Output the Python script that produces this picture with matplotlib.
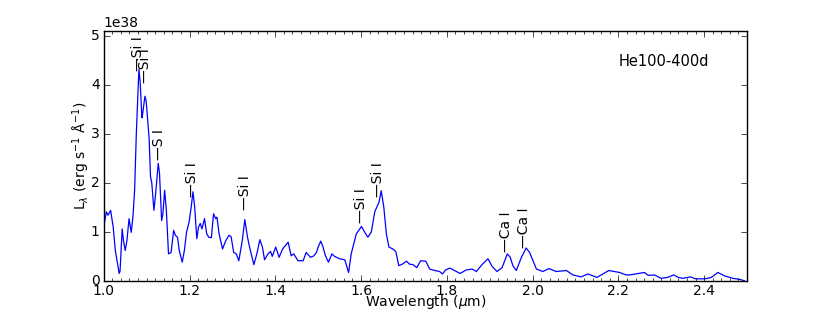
import matplotlib
matplotlib.use("Agg")
import matplotlib.pyplot as plt
from matplotlib.ticker import MultipleLocator

wavelength = [1.000, 1.006, 1.010, 1.016, 1.022, 1.027, 1.031, 1.036, 1.038, 1.043,
              1.046, 1.050, 1.054, 1.059, 1.064, 1.068, 1.072, 1.076, 1.082, 1.085,
              1.089, 1.091, 1.096, 1.099, 1.106, 1.109, 1.112, 1.117, 1.121, 1.127,
              1.130, 1.135, 1.138, 1.142, 1.146, 1.151, 1.157, 1.163, 1.167, 1.172,
              1.176, 1.183, 1.188, 1.193, 1.199, 1.204, 1.208, 1.212, 1.217, 1.221,
              1.225, 1.229, 1.235, 1.240, 1.245, 1.251, 1.256, 1.261, 1.264, 1.269,
              1.277, 1.284, 1.292, 1.297, 1.303, 1.309, 1.315, 1.323, 1.329, 1.335,
              1.340, 1.350, 1.357, 1.364, 1.370, 1.375, 1.383, 1.389, 1.393, 1.401,
              1.409, 1.417, 1.430, 1.437, 1.443, 1.453, 1.465, 1.472, 1.482, 1.490,
              1.496, 1.500, 1.506, 1.511, 1.517, 1.524, 1.532, 1.538, 1.550, 1.562,
              1.571, 1.577, 1.589, 1.601, 1.608, 1.616, 1.624, 1.632, 1.642, 1.647,
              1.653, 1.659, 1.665, 1.674, 1.681, 1.688, 1.696, 1.706, 1.713, 1.721,
              1.730, 1.739, 1.751, 1.760, 1.772, 1.783, 1.790, 1.797, 1.807, 1.818,
              1.831, 1.845, 1.859, 1.869, 1.883, 1.896, 1.906, 1.917, 1.929, 1.941,
              1.948, 1.954, 1.962, 1.974, 1.985, 1.993, 2.001, 2.009, 2.024, 2.038,
              2.055, 2.079, 2.094, 2.113, 2.129, 2.150, 2.178, 2.203, 2.218, 2.226,
              2.240, 2.261, 2.270, 2.284, 2.300, 2.315, 2.329, 2.340, 2.350, 2.368,
              2.380, 2.402, 2.417, 2.432, 2.448, 2.467, 2.483, 2.494]
luminosity = [1.10, 1.41, 1.34, 1.44, 1.10, 0.62, 0.41, 0.15, 0.20, 1.06,
              0.82, 0.62, 0.82, 1.27, 0.99, 1.30, 1.85, 3.02, 4.32, 4.05,
              3.33, 3.43, 3.77, 3.67, 2.88, 2.13, 2.00, 1.44, 1.78, 2.40,
              2.20, 1.23, 1.37, 1.85, 1.44, 0.55, 0.58, 1.03, 0.93, 0.89,
              0.62, 0.38, 0.62, 0.99, 1.20, 1.51, 1.82, 1.51, 0.86, 1.10,
              1.17, 1.06, 1.27, 0.96, 0.89, 0.88, 1.37, 1.27, 1.30, 0.96,
              0.65, 0.81, 0.93, 0.90, 0.58, 0.55, 0.41, 0.82, 1.25, 0.90,
              0.69, 0.33, 0.55, 0.84, 0.69, 0.43, 0.55, 0.60, 0.50, 0.69,
              0.48, 0.65, 0.79, 0.51, 0.55, 0.41, 0.41, 0.58, 0.48, 0.51,
              0.58, 0.69, 0.81, 0.70, 0.51, 0.38, 0.55, 0.50, 0.45, 0.43,
              0.17, 0.55, 0.96, 1.11, 1.00, 0.89, 1.00, 1.41, 1.61, 1.84,
              1.51, 0.96, 0.69, 0.65, 0.60, 0.31, 0.34, 0.40, 0.34, 0.33,
              0.27, 0.41, 0.40, 0.24, 0.21, 0.19, 0.14, 0.22, 0.26, 0.21,
              0.15, 0.22, 0.24, 0.19, 0.34, 0.45, 0.29, 0.19, 0.27, 0.55,
              0.48, 0.31, 0.21, 0.48, 0.67, 0.58, 0.41, 0.24, 0.19, 0.25,
              0.19, 0.21, 0.12, 0.08, 0.14, 0.07, 0.21, 0.17, 0.12, 0.12,
              0.14, 0.17, 0.11, 0.12, 0.05, 0.07, 0.12, 0.07, 0.05, 0.08,
              0.04, 0.04, 0.07, 0.17, 0.10, 0.05, 0.03, 0.00]

line_names = ["Si I", "Si I", "S I", "Si I", "Si I", "Si I", "Si I", "Ca I", "Ca I"]
line_wl = [1.080, 1.097, 1.128, 1.206, 1.329, 1.601, 1.639, 1.939, 1.979]
line_y = [4.28, 4.05, 2.47, 1.71, 1.44, 1.19, 1.71, 0.58, 0.66]

model_label = "He100-400d"
scale = 1e38

plt.style.use("classic")
plt.rcParams["font.size"] = 10
plt.rcParams["mathtext.fontset"] = "dejavusans"
plt.rcParams["font.family"] = ["DejaVu Sans"]
plt.rcParams["xtick.major.pad"] = 2
plt.rcParams["ytick.major.pad"] = 3

fig = plt.figure(figsize=(8.3, 3.12), dpi=100, facecolor="white")
ax = fig.add_subplot(111)
ax.plot(wavelength, [v * scale for v in luminosity], color="b", lw=0.9)

for name, wl, yy in zip(line_names, line_wl, line_y):
    ax.text(wl, yy * scale, "\u2014" + name, rotation=90, ha="center", va="bottom",
            fontsize=10)

ax.text(0.87, 0.88, model_label, transform=ax.transAxes, ha="center", va="center",
        fontsize=10.5)

ax.set_xlim(1.0, 2.5)
ax.set_ylim(0, 5.1e38)
ax.xaxis.set_major_locator(MultipleLocator(0.2))
ax.xaxis.set_minor_locator(MultipleLocator(0.02))
ax.set_xlabel(r"Wavelength ($\mu$m)", labelpad=-3)
ax.set_ylabel(r"L$_\lambda$ (erg s$^{-1}$ $\mathrm{\AA}^{-1}$)", labelpad=-1)

fig.savefig("out.png", dpi=100, facecolor="white")
